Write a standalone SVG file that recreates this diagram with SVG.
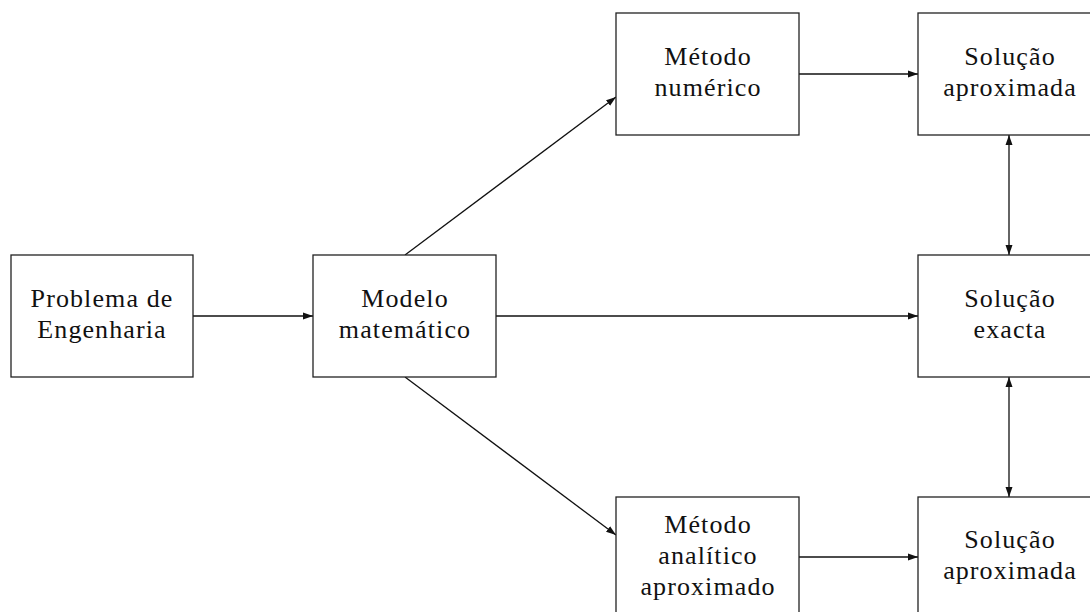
<svg xmlns="http://www.w3.org/2000/svg" width="1090" height="612" viewBox="0 0 1090 612">
<style>
.box{fill:#fff;stroke:#222;stroke-width:1.3}
.t{font-family:"Liberation Serif","Times New Roman",serif;font-size:26px;letter-spacing:1.1px;fill:#111;text-anchor:middle}
.c{stroke:#111;stroke-width:1.3;fill:none}
</style>
<defs>
<marker id="ah" viewBox="0 0 10 8" refX="10" refY="4" markerWidth="10" markerHeight="8" markerUnits="userSpaceOnUse" orient="auto-start-reverse">
<path d="M0,0.5 L10,4 L0,7.5 Z" fill="#111"/>
</marker>
</defs>
<rect width="1090" height="612" fill="#fff"/>
<g id="connectors">
<line class="c" x1="193" y1="316" x2="313" y2="316" marker-end="url(#ah)"/>
<line class="c" x1="496" y1="316" x2="918" y2="316" marker-end="url(#ah)"/>
<line class="c" x1="405" y1="255" x2="616" y2="97" marker-end="url(#ah)"/>
<line class="c" x1="405" y1="377" x2="616" y2="535" marker-end="url(#ah)"/>
<line class="c" x1="799" y1="74" x2="918" y2="74" marker-end="url(#ah)"/>
<line class="c" x1="799" y1="557" x2="918" y2="557" marker-end="url(#ah)"/>
<line class="c" x1="1009" y1="135" x2="1009" y2="255" marker-start="url(#ah)" marker-end="url(#ah)"/>
<line class="c" x1="1009" y1="377" x2="1009" y2="497" marker-start="url(#ah)" marker-end="url(#ah)"/>
</g>
<g id="problema">
<rect class="box" x="11" y="255" width="182" height="122"/>
<text class="t" x="102" y="307">Problema de</text>
<text class="t" x="102" y="338">Engenharia</text>
</g>
<g id="modelo">
<rect class="box" x="313" y="255" width="183" height="122"/>
<text class="t" x="405" y="307">Modelo</text>
<text class="t" x="405" y="338">matemático</text>
</g>
<g id="metodo-numerico">
<rect class="box" x="616" y="13" width="183" height="122"/>
<text class="t" x="708" y="65">Método</text>
<text class="t" x="708" y="96">numérico</text>
</g>
<g id="solucao-aprox-top">
<rect class="box" x="918" y="13" width="183" height="122"/>
<text class="t" x="1010" y="65">Solução</text>
<text class="t" x="1010" y="96">aproximada</text>
</g>
<g id="solucao-exacta">
<rect class="box" x="918" y="255" width="183" height="122"/>
<text class="t" x="1010" y="307">Solução</text>
<text class="t" x="1010" y="338">exacta</text>
</g>
<g id="metodo-analitico">
<rect class="box" x="616" y="497" width="183" height="122"/>
<text class="t" x="708" y="533">Método</text>
<text class="t" x="708" y="564">analítico</text>
<text class="t" x="708" y="595">aproximado</text>
</g>
<g id="solucao-aprox-bottom">
<rect class="box" x="918" y="497" width="183" height="122"/>
<text class="t" x="1010" y="548">Solução</text>
<text class="t" x="1010" y="579">aproximada</text>
</g>
</svg>
